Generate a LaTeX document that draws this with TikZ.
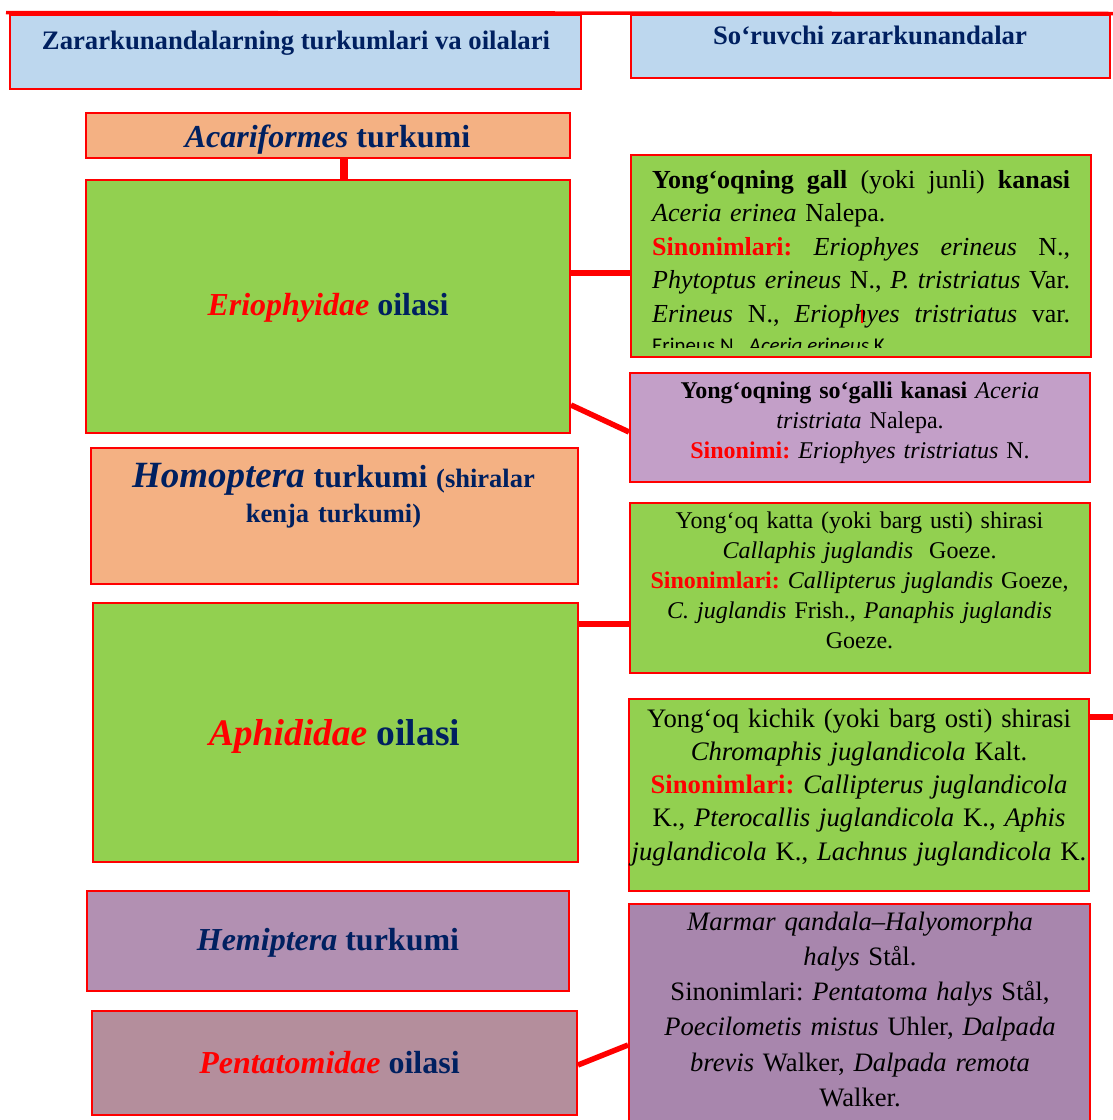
\documentclass[tikz,border=0pt]{standalone}
\usepackage{fontspec}
\setmainfont{Liberation Serif}
\newfontfamily\calfont{Carlito}
\usetikzlibrary{positioning}
\frenchspacing

\definecolor{ttlblue}{HTML}{BDD7EE}
\definecolor{salmon}{HTML}{F4B183}
\definecolor{leaf}{HTML}{92D050}
\definecolor{lilac}{HTML}{C39FC8}
\definecolor{hemipurp}{HTML}{B290B2}
\definecolor{pentamauve}{HTML}{B48E9C}
\definecolor{qandpurp}{HTML}{A886AD}
\definecolor{navy}{HTML}{002060}

\newcommand{\fs}[2]{\fontsize{#1}{#2}\selectfont}
\newcommand{\sinon}[1]{\textcolor{red}{\textbf{#1}}}
\newcommand{\famred}[1]{\textcolor{red}{\textit{#1}}}
\newcommand{\jsp}{\hskip 0.25em plus 1fil\relax}
\newcommand{\jline}[1]{\leavevmode\hbox to 418pt{#1}}

\tikzset{
  box/.style={draw=red, line width=2pt, inner sep=0pt, rectangle},
  link/.style={draw=red, line width=5.5pt},
  lbl/.style={inner sep=0pt, anchor=base, align=center},
  ordlbl/.style={lbl, text=navy, font=\bfseries},
}

\begin{document}
\begin{tikzpicture}[x=1pt,y=-1pt]
			%%%%% START %%%%%
			\clip (0,0) rectangle (1113,1120);
			\fill[white] (0,0) rectangle (1113,1120);
			
			% headings
			\node[box, fill=ttlblue, minimum width=571pt, minimum height=74pt] (ttlL) at (295.5,52) {};
			\node[box, fill=ttlblue, minimum width=479pt, minimum height=63pt] (ttlR) at (870.5,46.5) {};
			\coordinate (topR) at (1113,13.5);
			\draw[red, line width=3.5pt] ([xshift=-3pt,yshift=1.5pt]ttlL.north west) -- (topR);
			\node[ordlbl, font=\fs{26.7}{32}\bfseries] (ttlLtxt) at (296,49) {Zararkunandalarning turkumlari va oilalari};
			\node[ordlbl, font=\fs{26.7}{32}\bfseries] (ttlRtxt) at (870,44) {So‘ruvchi zararkunandalar};
			
			% left column: orders and families
			\node[box, fill=salmon, minimum width=484pt, minimum height=45pt] (acari) at (328,135.5) {};
			\node[box, fill=leaf, minimum width=484pt, minimum height=253pt] (erio) at (328,306.5) {};
			\node[box, fill=salmon, minimum width=487pt, minimum height=136pt] (homo) at (334.5,516) {};
			\node[box, fill=leaf, minimum width=485pt, minimum height=259pt] (aphid) at (335.5,732.5) {};
			\node[box, fill=hemipurp, minimum width=482pt, minimum height=100pt] (hemi) at (328,941) {};
			\node[box, fill=pentamauve, minimum width=485pt, minimum height=104pt] (penta) at (334.5,1063) {};
			
			\node[ordlbl, font=\fs{32}{38}\bfseries] (acaritxt) at (327.5,147) {\textit{Acariformes} turkumi};
			\node[ordlbl, font=\fs{32}{38}\bfseries] (eriotxt) at (328,315) {\famred{Eriophyidae} oilasi};
			\node[ordlbl, text width=480pt, font=\fs{26.5}{35}\bfseries] (homotxt) at (333.5,487)
				{{\fs{37}{35}\textit{Homoptera}} {\fs{32}{35}turkumi} (shiralar\\ kenja turkumi)};
			\node[ordlbl, font=\fs{37.5}{44}\bfseries] (aphidtxt) at (334.5,745) {\famred{Aphididae} oilasi};
			\node[ordlbl, font=\fs{32}{38}\bfseries] (hemitxt) at (328,950) {\textit{Hemiptera} turkumi};
			\node[ordlbl, font=\fs{32}{38}\bfseries] (pentatxt) at (329.5,1073) {\famred{Pentatomidae} oilasi};
			
			% right column: pests
			\node[box, fill=leaf, minimum width=460pt, minimum height=202pt] (kanaA) at (861,256) {};
			\node[box, fill=lilac, minimum width=460pt, minimum height=109pt] (kanaB) at (860,427.5) {};
			\node[box, fill=leaf, minimum width=460pt, minimum height=170pt] (shiraC) at (860,588) {};
			\node[box, fill=leaf, minimum width=460pt, minimum height=192pt] (shiraD) at (859,795) {};
			\node[box, fill=qandpurp, minimum width=461pt, minimum height=231pt] (qandE) at (859.5,1019.5) {};
			
			\node[lbl, anchor=base west, align=left, text width=418pt, font=\fs{26}{33.5}] (kanaAtxt) at (652,188) {%
				\jline{\textbf{Yong‘oqning}\jsp\textbf{gall}\jsp(yoki\jsp junli)\jsp\textbf{kanasi}}\\
				\textit{Aceria erinea} Nalepa.\\
				\jline{\sinon{Sinonimlari:}\jsp\textit{Eriophyes}\jsp\textit{erineus}\jsp N.,}\\
				\jline{\textit{Phytoptus}\jsp\textit{erineus}\jsp N.,\jsp\textit{P.}\jsp\textit{tristriatus}\jsp Var.}\\
				\jline{\textit{Erineus}\jsp N.,\jsp\textit{Eriophyes}\jsp\textit{tristriatus}\jsp var.}};
			\begin{scope}
				\clip (kanaA.north west) rectangle (1091,347);
				\node[lbl, anchor=base west, font=\calfont\fs{21}{25}] (kanaAcut) at (652,352) {Erineus N., \textit{Aceria erineus} K.};
			\end{scope}
			\draw[red, line width=1.5pt] (862,310) -- (862,323);
			
			\node[lbl, text width=450pt, font=\fs{24}{30}] (kanaBtxt) at (860,398) {%
				\textbf{Yong‘oqning so‘galli kanasi} \textit{Aceria}\\
				\textit{tristriata} Nalepa.\\
				\sinon{Sinonimi:} \textit{Eriophyes tristriatus} N.};
			\node[lbl, text width=450pt, font=\fs{24}{30}] (shiraCtxt) at (859.5,528) {%
				Yong‘oq katta (yoki barg usti) shirasi\\
				\textit{Callaphis juglandis}\ \ Goeze.\\
				\sinon{Sinonimlari:} \textit{Callipterus juglandis} Goeze,\\
				\textit{C. juglandis} Frish., \textit{Panaphis juglandis}\\
				Goeze.};
			\node[lbl, text width=456pt, font=\fs{26.7}{33.3}] (shiraDtxt) at (859,727) {%
				Yong‘oq kichik (yoki barg osti) shirasi\\
				\textit{Chromaphis juglandicola} Kalt.\\
				\sinon{Sinonimlari:} \textit{Callipterus juglandicola}\\
				K., \textit{Pterocallis juglandicola} K., \textit{Aphis}\\
				\textit{juglandicola} K., \textit{Lachnus juglandicola} K.};
			\node[lbl, text width=450pt, font=\fs{26.6}{35.3}] (qandEtxt) at (860,930) {%
				\textit{Marmar qandala–Halyomorpha}\\
				\textit{halys} Stål.\\
				Sinonimlari: \textit{Pentatoma halys} Stål,\\
				\textit{Poecilometis mistus} Uhler, \textit{Dalpada}\\
				\textit{brevis} Walker, \textit{Dalpada remota}\\
				Walker.};
			
			% connectors
			\coordinate (edgeD) at (1113,717);
			\draw[red, line width=7.5pt] ([xshift=16pt]acari.south) -- ([xshift=16pt]erio.north);
			\draw[link] (erio.east |- 0,273) -- (kanaA.west |- 0,273);
			\draw[link] (erio.east |- 0,405) -- (kanaB.west |- 0,432);
			\draw[link] (aphid.east |- 0,624) -- (shiraC.west |- 0,624);
			\draw[link] (shiraD.east |- edgeD) -- (edgeD);
			\draw[link] (penta.east |- 0,1065) -- (qandE.west |- 0,1045);
			%%%%% END %%%%%
\end{tikzpicture}
\end{document}
